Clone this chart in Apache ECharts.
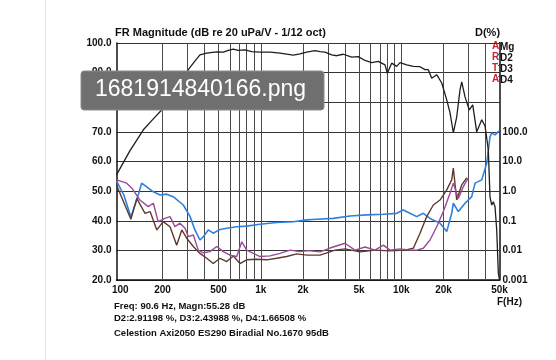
<!DOCTYPE html>
<html><head><meta charset="utf-8">
<script src="https://cdn.jsdelivr.net/npm/echarts@6/dist/echarts.min.js"></script>
<style>html,body{margin:0;padding:0;background:#fff}#c{width:556px;height:360px}</style>
</head><body><div id="c"></div>
<script>
// Frequency response magnitude (dB)
const magFreq = [94,117,146,168,197,245,305,331,369,412,486,541,587,638,692,772,862,988,1164,1371,1704,1902,2122,2432,2640,2865,3197,3471,3868,4438,4944,5518,6157,6862,7661,7952,8544,9278,9795,10932,12182,13592,14758,15566,16469,17870,19402,21056,22231,23462,24807,26179,26922,28416,30484,32242,34432,37365,39442,41633,42808,44011,45186,46464,47771,49040,50000];
const magDb = [55.5,63.6,70.7,73.9,77.4,84.2,91.0,93.2,96.0,96.6,97.0,96.9,97.5,97.9,97.5,97.7,97.1,96.9,96.9,96.6,95.9,96.3,96.9,97.4,97.1,96.9,96.0,95.7,96.2,95.2,95.4,94.1,93.4,93.8,92.6,89.8,93.2,92.1,93.4,92.6,92.1,92.0,91.0,91.0,88.1,89.3,86.5,80.8,76.4,69.7,75.1,84.2,86.9,81.8,77.4,79.1,70.0,74.1,72.0,63.9,48.0,45.3,46.4,44.7,36.9,22.4,20.0];
// Distortion (%), blue curve
const blueFreq = [94,106,119,131,142,172,192,214,238,281,314,340,369,390,423,459,513,572,674,794,988,1298,1704,2122,2501,3282,4316,5675,7446,9278,10340,11530,12877,14350,16010,18870,21056,22850,23462,25460,28416,31720,33490,37365,40550,42808,44011,46464,49040,50000];
const bluePct = [2.2,0.74,0.135,0.5,1.86,0.95,0.74,0.79,0.65,0.34,0.138,0.049,0.0224,0.0288,0.049,0.038,0.051,0.056,0.063,0.066,0.076,0.087,0.093,0.107,0.112,0.12,0.145,0.158,0.166,0.178,0.229,0.178,0.138,0.178,0.12,0.083,0.043,0.178,0.39,0.204,0.39,0.65,1.86,2.4,8.7,69,91,79,102,107];
// Distortion (%), purple curve
const purpleFreq = [94,111,121,138,158,172,186,208,226,245,266,289,305,331,359,390,435,486,541,604,674,732,794,885,988,1164,1371,1614,1902,2179,2640,3110,3976,4685,5518,6505,7446,8310,9795,11530,12877,14350,16010,17870,19910,22231,23462,25460,27630,30000];
const purplePct = [2.4,1.86,1.26,0.5,0.3,0.39,0.093,0.12,0.138,0.063,0.083,0.056,0.029,0.033,0.0102,0.0083,0.0091,0.0135,0.0091,0.0069,0.0062,0.0195,0.0102,0.0079,0.0062,0.0065,0.0079,0.0102,0.0091,0.0098,0.0089,0.012,0.0174,0.0102,0.013,0.0102,0.015,0.0102,0.0112,0.0102,0.0102,0.0118,0.0224,0.063,0.204,0.85,1.86,0.57,1.41,2.8];
// Distortion (%), brown curve
const brownFreq = [94,119,131,150,163,182,202,226,252,274,297,331,369,412,459,513,572,638,711,794,935,1102,1298,1529,1801,2122,2640,3375,3976,5085,6505,8310,10630,12182,13592,15170,16900,18870,21056,22850,23462,24807,26922,29230];
const brownPct = [1.62,0.112,0.57,0.178,0.204,0.049,0.093,0.063,0.015,0.049,0.0257,0.0135,0.0079,0.0054,0.0036,0.0054,0.0042,0.0065,0.0036,0.0048,0.005,0.0048,0.0054,0.0062,0.0076,0.0069,0.0069,0.0102,0.0112,0.0089,0.0102,0.0096,0.0102,0.0118,0.038,0.138,0.34,0.5,1.1,2.4,6.0,0.5,1.62,2.8];
// Axis ticks
const gridFreqs = [200,300,400,500,600,700,800,900,1000,2000,3000,4000,5000,6000,7000,8000,9000,10000,20000,30000,40000];
const tickFreqs = [100,200,500,1000,2000,5000,10000,20000,50000];
const tickLabels = ['100','200','500','1k','2k','5k','10k','20k','50k'];
const fMin = 94, fMax = 50000;

const FONT = '"Liberation Sans", Arial, sans-serif';
const toXY = (fs, vs) => fs.map((f, i) => [Math.log10(f), vs[i]]);

const chart = echarts.init(document.getElementById('c'), null, {renderer: 'canvas'});
const legendRows = [['A', 'Mg', '#222'], ['R', 'D2', '#2f80dc'], ['T', 'D3', '#5e3a2e'], ['A', 'D4', '#9a4a98']];
const graphics = [
  {type: 'line', shape: {x1: 45.5, y1: 0, x2: 45.5, y2: 360}, style: {stroke: '#dbe5f4', lineWidth: 1}, silent: true},
  {type: 'text', left: 115, top: 27, style: {text: 'FR Magnitude (dB re 20 uPa/V - 1/12 oct)', font: 'bold 11px ' + FONT, fill: '#111'}},
  {type: 'text', left: 475, top: 27, style: {text: 'D(%)', font: 'bold 11px ' + FONT, fill: '#111'}},
  {type: 'text', left: 497, top: 297, style: {text: 'F(Hz)', font: 'bold 10px ' + FONT, fill: '#111'}},
  {type: 'text', left: 114, top: 301, style: {text: 'Freq: 90.6 Hz, Magn:55.28 dB', font: 'bold 9.5px ' + FONT, fill: '#111'}},
  {type: 'text', left: 114, top: 313, style: {text: 'D2:2.91198 %, D3:2.43988 %, D4:1.66508 %', font: 'bold 9.5px ' + FONT, fill: '#111'}},
  {type: 'text', left: 114, top: 328, style: {text: 'Celestion Axi2050 ES290 Biradial No.1670 95dB', font: 'bold 9.5px ' + FONT, fill: '#111'}}
];
legendRows.forEach((r, i) => {
  graphics.push({type: 'text', left: 492, top: 41 + i * 11, style: {text: r[0], font: 'bold 10px ' + FONT, fill: '#c8262b'}});
  graphics.push({type: 'line', shape: {x1: 498, y1: 44 + i * 11, x2: 500, y2: 42 + i * 11}, style: {stroke: r[2], lineWidth: 1}});
  graphics.push({type: 'text', left: 500, top: 42 + i * 11, style: {text: r[1], font: 'bold 10px ' + FONT, fill: '#111'}});
});
graphics.push({type: 'rect', shape: {x: 81, y: 71, width: 243, height: 39, r: 3}, style: {fill: '#6f6f6f', stroke: '#8c8c8c', lineWidth: 1}, z: 100});
graphics.push({type: 'text', left: 95, top: 78, z: 101, style: {text: '1681914840166.png', font: '500 23px ' + FONT, fill: '#ffffff'}});

chart.setOption({
  animation: false,
  backgroundColor: '#fff',
  grid: {left: 116.5, top: 43, width: 383, height: 237, containLabel: false},
  xAxis: {
    type: 'value', min: Math.log10(fMin), max: Math.log10(fMax),
    axisLine: {show: true, lineStyle: {color: '#111', width: 1.5}},
    axisTick: {show: false},
    splitLine: {show: false},
    axisLabel: {
      customValues: tickFreqs.map(f => Math.log10(f)),
      formatter: v => { let b = 0; tickFreqs.forEach((f, i) => { if (Math.abs(Math.log10(f) - v) < Math.abs(Math.log10(tickFreqs[b]) - v)) b = i; }); return tickLabels[b]; },
      color: '#111', fontFamily: FONT, fontWeight: 'bold', fontSize: 10, margin: 5
    }
  },
  yAxis: [
    {type: 'value', min: 20, max: 100, interval: 10, position: 'left',
     axisLine: {show: true, lineStyle: {color: '#111', width: 1.5}}, axisTick: {show: false},
     splitLine: {show: true, lineStyle: {color: '#333', width: 1.2}},
     axisLabel: {formatter: v => v.toFixed(1), color: '#111', fontFamily: FONT, fontWeight: 'bold', fontSize: 10, margin: 5}},
    {type: 'log', logBase: 10, min: 0.001, max: 100000, position: 'right',
     axisLine: {show: true, lineStyle: {color: '#111', width: 1.5}}, axisTick: {show: false},
     splitLine: {show: false},
     axisLabel: {formatter: v => v > 100.5 ? '' : (v < 0.5 ? String(+v.toPrecision(1)) : v.toFixed(1)), color: '#111', fontFamily: FONT, fontWeight: 'bold', fontSize: 10, margin: 3}}
  ],
  graphic: graphics,
  series: [
    {type: 'line', name: 'D2', yAxisIndex: 1, data: toXY(blueFreq, bluePct), showSymbol: false, lineStyle: {color: '#2f80dc', width: 1.6}, z: 3},
    {type: 'line', name: 'D3', yAxisIndex: 1, data: toXY(brownFreq, brownPct), showSymbol: false, lineStyle: {color: '#5e3a2e', width: 1.4}, z: 4},
    {type: 'line', name: 'D4', yAxisIndex: 1, data: toXY(purpleFreq, purplePct), showSymbol: false, lineStyle: {color: '#9a4a98', width: 1.4}, z: 5},
    {type: 'line', name: 'Mg', yAxisIndex: 0, data: toXY(magFreq, magDb), showSymbol: false, lineStyle: {color: '#1e1e1e', width: 1.3}, z: 6,
     markLine: {silent: true, symbol: ['none', 'none'], label: {show: false}, animation: false,
       lineStyle: {color: '#4a4a4a', width: 1, type: 'solid'}, z: 1,
       data: gridFreqs.map(f => ({xAxis: Math.log10(f)}))}}
  ]
});
</script></body></html>
